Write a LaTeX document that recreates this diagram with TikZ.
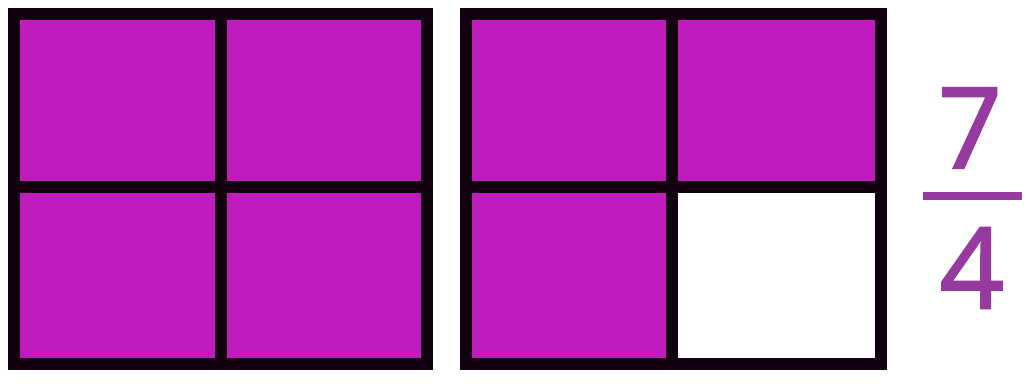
\documentclass[tikz,border=0pt]{standalone}
\usepackage{fontspec}
\setsansfont{Open Sans}
\newfontfamily\numfont{Open Sans}[FakeBold=1.8]
\definecolor{cellfill}{RGB}{193,26,189}
\definecolor{numpurple}{RGB}{150,58,160}
\definecolor{gridline}{RGB}{18,2,16}
\begin{document}
\begin{tikzpicture}[
      x=0.02cm,y=-0.02cm,
      cell/.style={fill=cellfill},
      gridbox/.style={draw=gridline,line width=0.24cm},
      digit/.style={text=numpurple,inner sep=0pt,font=\numfont\fontsize{64}{64}\selectfont},
      fracbar/.style={draw=numpurple,line width=0.16cm}
    ]
    \useasboundingbox (0,0) rectangle (1029,389);
    % first whole: all four quarters shaded
    \fill[cell] (14,14) rectangle (427,364);
    \draw[gridbox] (14,14) rectangle (427,364) (221,14) -- (221,364) (14,187) -- (427,187);
    % second whole: three quarters shaded
    \fill[cell] (466,14) rectangle (881,364);
    \fill[white] (672,187) rectangle (881,364);
    \draw[gridbox] (466,14) rectangle (881,364) (672,14) -- (672,364) (466,187) -- (881,187);
    % fraction
    \node[digit] (num) at (970,128) {7};
    \node[digit] (den) at (972,268) {4};
    \coordinate (barl) at (923,196);
    \coordinate (barr) at (1022,196);
    \draw[fracbar] (barl) -- (barr);
  \end{tikzpicture}
\end{document}
